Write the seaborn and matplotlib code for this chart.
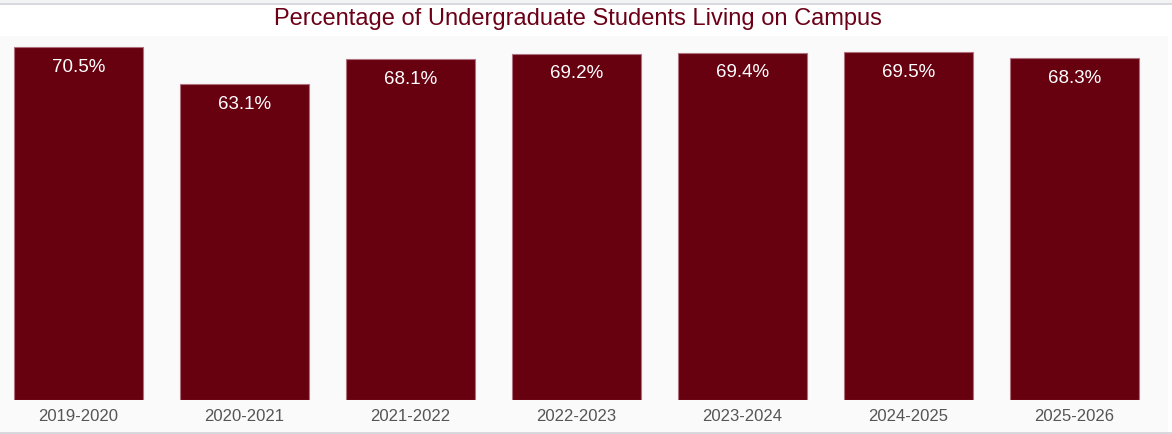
import numpy as np
import pandas as pd
import seaborn as sns
import matplotlib.pyplot as plt
from matplotlib.patches import Rectangle
from matplotlib.lines import Line2D

# Chart data
years = ["2019-2020", "2020-2021", "2021-2022", "2022-2023",
         "2023-2024", "2024-2025", "2025-2026"]
pct_on_campus = [70.5, 63.1, 68.1, 69.2, 69.4, 69.5, 68.3]

df = pd.DataFrame({"year": years, "pct": pct_on_campus})

sns.set_theme(style="white")
plt.rcParams['font.family'] = ['Liberation Sans', 'DejaVu Sans']

W, H = 1172, 435
fig = plt.figure(figsize=(W / 100, H / 100), dpi=100)
fig.patch.set_facecolor("white")

# light band under the axis (tick label area)
fig.patches.append(Rectangle((0, (H - 433) / H), 1168 / W, 32.5 / H,
                             transform=fig.transFigure, facecolor="#fafafa",
                             edgecolor="none", zorder=-5))
# top strip and frame lines
fig.patches.append(Rectangle((0, (H - 4) / H), 1, 4 / H,
                             transform=fig.transFigure, facecolor="#f2f3f5",
                             edgecolor="none", zorder=-5))
fig.lines.append(Line2D([0, 1], [(H - 4.5) / H] * 2, transform=fig.transFigure,
                        color="#cfd2d7", lw=1.2, zorder=-4))
fig.lines.append(Line2D([0, 1], [(H - 433.5) / H] * 2, transform=fig.transFigure,
                        color="#cfd2d7", lw=1.2, zorder=-4))

ax = fig.add_axes([0, (H - 401) / H, 1168 / W, 364 / H])
ax.set_facecolor("#fafafa")

bar_color = "#67000f"
sns.barplot(data=df, x="year", y="pct", color=bar_color, saturation=1,
            width=0.78, edgecolor="#b07080", linewidth=0.8, ax=ax)

ax.set_xlim(-78.5 / 166, (1168 - 78.5) / 166)
ax.set_ylim(0, 72.7)
ax.set_xlabel("")
ax.set_ylabel("")
ax.set_yticks([])
ax.tick_params(axis="x", length=0, pad=6, labelsize=12, labelcolor="#555555")
for s in ax.spines.values():
    s.set_visible(False)

for i, v in enumerate(pct_on_campus):
    ax.text(i, v - 3.8, f"{v}%", ha="center", va="center",
            color="white", fontsize=13.5)

fig.text(578 / W, (H - 19) / H, "Percentage of Undergraduate Students Living on Campus",
         ha="center", va="center", fontsize=17, color="#6b0016")

fig.savefig("out.png", dpi=100)
